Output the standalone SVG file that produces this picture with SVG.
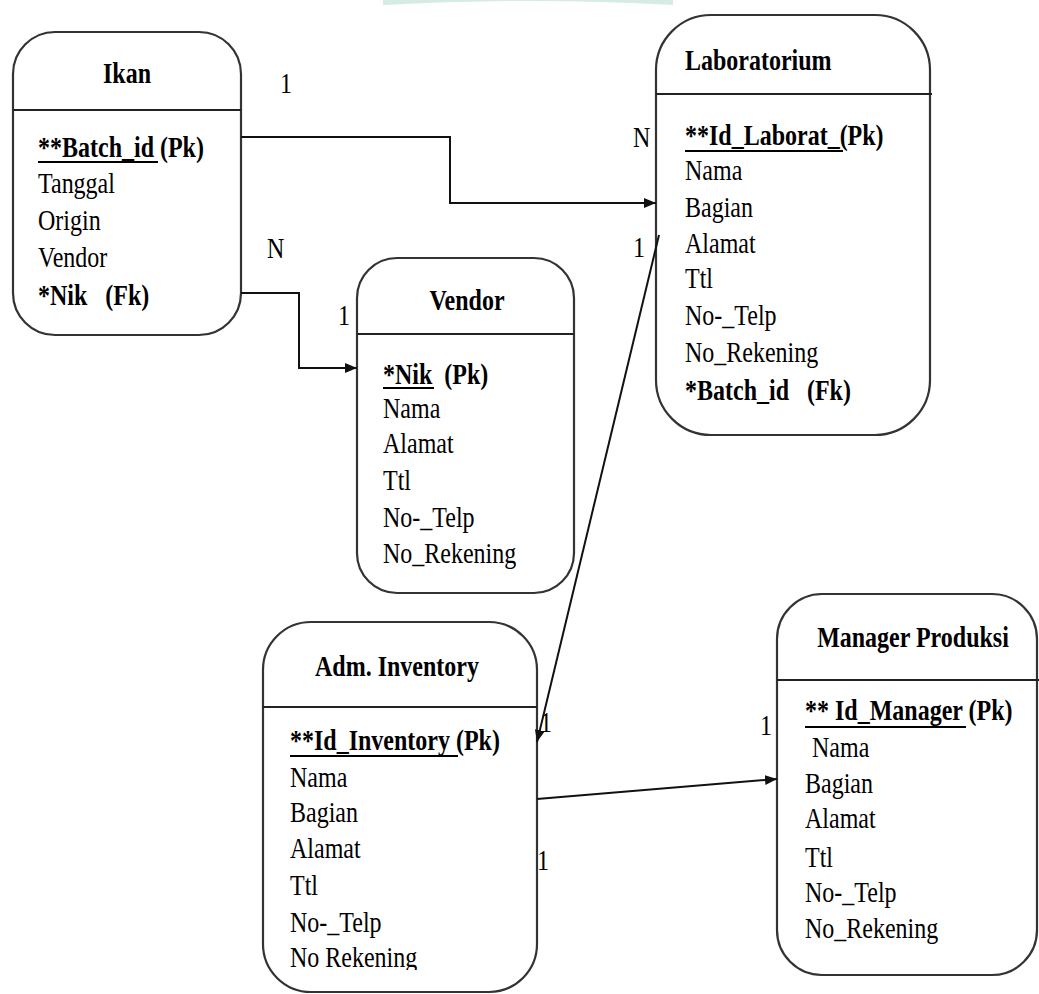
<svg xmlns="http://www.w3.org/2000/svg" width="1039" height="994" viewBox="0 0 1039 994">
  <style>
    text { font-family: "Liberation Serif", "Times New Roman", serif; font-size: 30px; fill: #000; }
    .b { font-weight: bold; }
    .mid { text-anchor: middle; }
    .box { fill: #fff; stroke: #333; stroke-width: 2.2; }
    .sep { stroke: #222; stroke-width: 2.2; }
    .ul { stroke: #000; stroke-width: 2; }
    .conn { fill: none; stroke: #111; stroke-width: 2; }
  </style>
  <defs>
    <marker id="arrow" viewBox="0 0 12 10" refX="12" refY="5" markerWidth="12" markerHeight="10" markerUnits="userSpaceOnUse" orient="auto">
      <path d="M0,0 L12,5 L0,10 z" fill="#111"/>
    </marker>
    <clipPath id="admClip">
      <rect x="263" y="622" width="274" height="348"/>
    </clipPath>
  </defs>

  <rect width="1039" height="994" fill="#fff"/>
  <!-- faint mark along the top edge -->
  <path d="M383,5 Q528,-3 673,5 L673,0 L383,0 Z" fill="#d6ece2"/>

  <!-- Ikan -->
  <g id="ikan">
    <rect class="box" x="13" y="32" width="228" height="303" rx="42"/>
    <line class="sep" x1="13" y1="110" x2="241" y2="110"/>
    <text class="b mid" transform="translate(127 83) scale(0.8 1)">Ikan</text>
    <text class="b" transform="translate(38 157) scale(0.8 1)">**Batch_id (Pk)</text>
    <line class="ul" x1="38" y1="162" x2="158" y2="162"/>
    <text transform="translate(38 193) scale(0.8 1)">Tanggal</text>
    <text transform="translate(38 230) scale(0.8 1)">Origin</text>
    <text transform="translate(38 267) scale(0.8 1)">Vendor</text>
    <text class="b" xml:space="preserve" transform="translate(38 305) scale(0.8 1)">*Nik   (Fk)</text>
  </g>

  <!-- Laboratorium -->
  <g id="laboratorium">
    <rect class="box" x="656" y="15" width="274" height="420" rx="55"/>
    <line class="sep" x1="656" y1="94" x2="932" y2="94"/>
    <text class="b" transform="translate(685 70) scale(0.8 1)">Laboratorium</text>
    <text class="b" transform="translate(685 145) scale(0.8 1)">**Id_Laborat_(Pk)</text>
    <line class="ul" x1="685" y1="151" x2="843" y2="151"/>
    <text transform="translate(685 180) scale(0.8 1)">Nama</text>
    <text transform="translate(685 217) scale(0.8 1)">Bagian</text>
    <text transform="translate(685 253) scale(0.8 1)">Alamat</text>
    <text transform="translate(685 288) scale(0.8 1)">Ttl</text>
    <text transform="translate(685 325) scale(0.8 1)">No-_Telp</text>
    <text transform="translate(685 362) scale(0.8 1)">No_Rekening</text>
    <text class="b" xml:space="preserve" transform="translate(685 400) scale(0.8 1)">*Batch_id   (Fk)</text>
  </g>

  <!-- Vendor -->
  <g id="vendor">
    <rect class="box" x="357" y="258" width="217" height="335" rx="40"/>
    <line class="sep" x1="357" y1="334" x2="574" y2="334"/>
    <text class="b mid" transform="translate(467 310) scale(0.8 1)">Vendor</text>
    <text class="b" xml:space="preserve" transform="translate(383 384) scale(0.8 1)">*Nik  (Pk)</text>
    <line class="ul" x1="383" y1="388" x2="434" y2="388"/>
    <text transform="translate(383 418) scale(0.8 1)">Nama</text>
    <text transform="translate(383 453) scale(0.8 1)">Alamat</text>
    <text transform="translate(383 490) scale(0.8 1)">Ttl</text>
    <text transform="translate(383 527) scale(0.8 1)">No-_Telp</text>
    <text transform="translate(383 563) scale(0.8 1)">No_Rekening</text>
  </g>

  <!-- Adm. Inventory -->
  <g id="adm-inventory">
    <rect class="box" x="263" y="622" width="274" height="370" rx="48"/>
    <line class="sep" x1="263" y1="707" x2="537" y2="707"/>
    <text class="b mid" transform="translate(397 676) scale(0.8 1)">Adm. Inventory</text>
    <text class="b" transform="translate(290 750) scale(0.8 1)">**Id_Inventory (Pk)</text>
    <line class="ul" x1="290" y1="756" x2="458" y2="756"/>
    <text transform="translate(290 787) scale(0.8 1)">Nama</text>
    <text transform="translate(290 822) scale(0.8 1)">Bagian</text>
    <text transform="translate(290 858) scale(0.8 1)">Alamat</text>
    <text transform="translate(290 895) scale(0.8 1)">Ttl</text>
    <text transform="translate(290 932) scale(0.8 1)">No-_Telp</text>
    <g clip-path="url(#admClip)">
      <text transform="translate(290 967) scale(0.8 1)">No Rekening</text>
    </g>
  </g>

  <!-- Manager Produksi -->
  <g id="manager-produksi">
    <rect class="box" x="777" y="594" width="260" height="381" rx="45"/>
    <line class="sep" x1="777" y1="680" x2="1039" y2="680"/>
    <text class="b mid" transform="translate(913 647) scale(0.8 1)">Manager Produksi</text>
    <text class="b" transform="translate(805 720) scale(0.8 1)">** Id_Manager (Pk)</text>
    <line class="ul" x1="805" y1="727" x2="966" y2="727"/>
    <text transform="translate(812 757) scale(0.8 1)">Nama</text>
    <text transform="translate(805 793) scale(0.8 1)">Bagian</text>
    <text transform="translate(805 828) scale(0.8 1)">Alamat</text>
    <text transform="translate(805 867) scale(0.8 1)">Ttl</text>
    <text transform="translate(805 902) scale(0.8 1)">No-_Telp</text>
    <text transform="translate(805 938) scale(0.8 1)">No_Rekening</text>
  </g>

  <!-- relationships -->
  <g id="connectors">
    <polyline class="conn" points="241,137 450,137 450,203 656,203" marker-end="url(#arrow)"/>
    <polyline class="conn" points="241,293 299,293 299,368 357,368" marker-end="url(#arrow)"/>
    <line class="conn" x1="659" y1="235" x2="537" y2="742" marker-end="url(#arrow)"/>
    <line class="conn" x1="537" y1="799" x2="777" y2="779" marker-end="url(#arrow)"/>
  </g>

  <!-- cardinality labels -->
  <g id="cardinality">
    <text transform="translate(280 93) scale(0.8 1)">1</text>
    <text transform="translate(267 258) scale(0.8 1)">N</text>
    <text transform="translate(338 325) scale(0.8 1)">1</text>
    <text transform="translate(633 147) scale(0.8 1)">N</text>
    <text transform="translate(633 257) scale(0.8 1)">1</text>
    <text transform="translate(540 732) scale(0.8 1)">1</text>
    <text transform="translate(537 870) scale(0.8 1)">1</text>
    <text transform="translate(760 735) scale(0.8 1)">1</text>
  </g>
</svg>
